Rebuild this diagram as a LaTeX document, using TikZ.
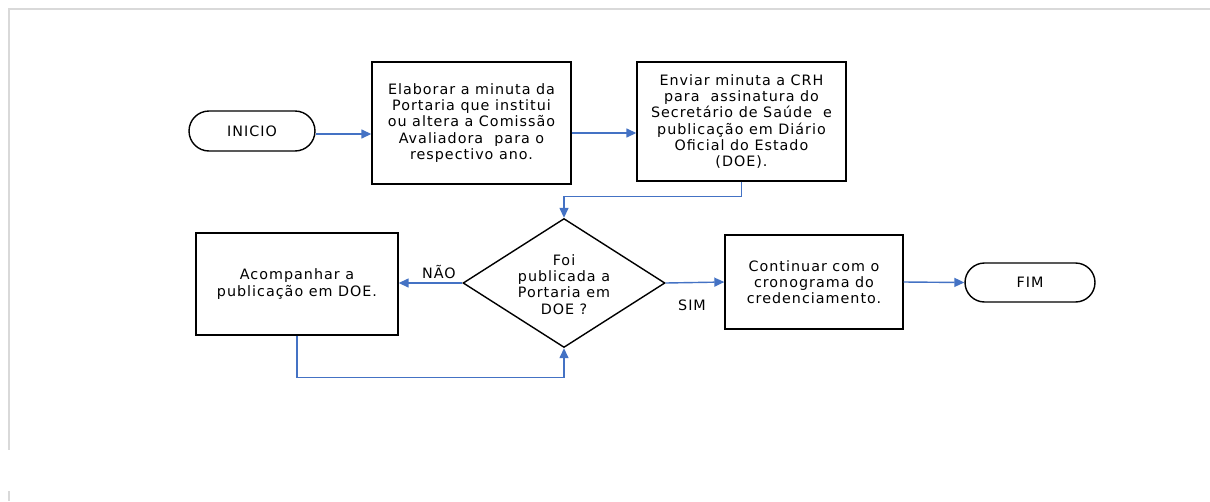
\documentclass[tikz,border=0pt]{standalone}
\usepackage{fontspec}
\setmainfont{DejaVu Sans}[LetterSpace=7]
\usetikzlibrary{shapes.geometric,shapes.misc,arrows.meta,calc}
\definecolor{arrblue}{HTML}{4472C4}
\definecolor{framegray}{HTML}{D9D9D9}
\begin{document}
\begin{tikzpicture}[x=0.02cm,y=-0.02cm,
  every node/.style={font=\fontsize{8.15}{9.2}\selectfont, align=center, text=black},
  procbox/.style={draw=black, line width=0.8pt, rectangle, inner sep=0pt},
  termbox/.style={draw=black, line width=0.8pt, rounded rectangle, inner sep=0pt},
  decbox/.style={draw=black, line width=0.8pt, diamond, inner sep=0pt},
  arr/.style={draw=arrblue, line width=0.8pt, -{Triangle[length=0.2cm,width=0.18cm]}},
  plainlabel/.style={inner sep=1pt}]
\useasboundingbox[fill=white] (0,0) rectangle (1210,501);
% frame
\draw[framegray, line width=1.2pt] (1210,9) -- (9,9) -- (9,450);
\draw[framegray, line width=1.2pt] (9,491) -- (9,501);
% nodes
\node[termbox, minimum width=2.52cm, minimum height=0.8cm] (ini) at (252,131) {INICIO};
\node[procbox, minimum width=3.98cm, minimum height=2.44cm] (b1) at (471.5,123) {Elaborar a minuta da\\Portaria que institui\\ou altera a Comissão\\Avaliadora\ \ para o\\respectivo ano.};
\node[procbox, minimum width=4.18cm, minimum height=2.38cm] (b2) at (741.5,121.5) {Enviar minuta a CRH\\para\ \ assinatura do\\Secretário de Saúde\ \ e\\publicação em Diário\\Oficial do Estado\\(DOE).};
\node[decbox, minimum width=4.04cm, minimum height=2.58cm] (dia) at (564,283) {};
\node (diatext) at (564,284.5) {Foi\\publicada a\\Portaria em\\DOE ?};
\node[procbox, minimum width=4.04cm, minimum height=2.04cm] (b3) at (297,284) {Acompanhar a\\publicação em DOE.};
\node[procbox, minimum width=3.56cm, minimum height=1.88cm] (b4) at (814,282) {Continuar com o\\cronograma do\\credenciamento.};
\node[termbox, minimum width=2.6cm, minimum height=0.78cm] (fim) at (1030,282.5) {FIM};
\node[plainlabel] (nao) at (439,272) {NÃO};
\node[plainlabel] (sim) at (692,305) {SIM};
% connectors
\draw[arr] ([yshift=-0.06cm]ini.east) -- ([yshift=-0.06cm]ini.east -| b1.west);
\draw[arr] ([yshift=-0.2cm]b1.east) -- ([yshift=-0.2cm]b1.east -| b2.west);
\draw[arr] (b2.south) -- ++(0,15) -| (dia.north);
\draw[arr] (dia.west) -- (dia.west -| b3.east);
\draw[arr] (b3.south) -- ++(0,42) -| (dia.south);
\draw[arr] (dia.east) -- (b4.west);
\draw[arr] (b4.east) -- (fim.west);
\end{tikzpicture}
\end{document}
